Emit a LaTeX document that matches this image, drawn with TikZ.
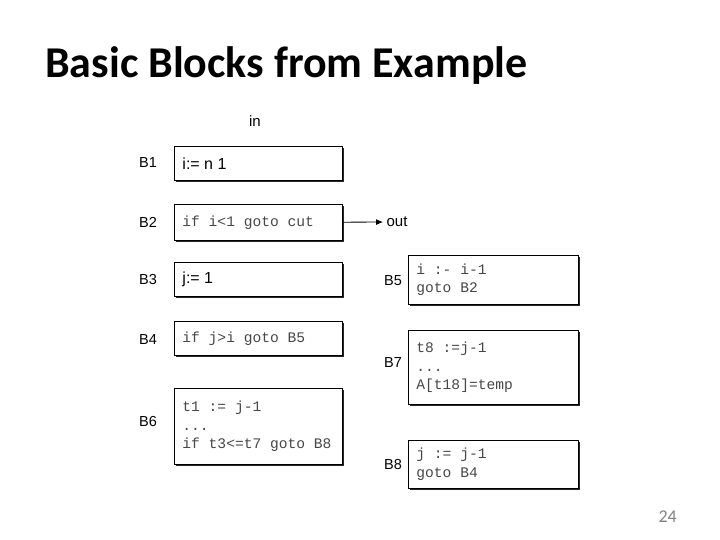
\documentclass[tikz,border=0pt]{standalone}
\usepackage{fontspec}
\setmainfont{Carlito}
\newfontfamily\codefont{Liberation Mono}
\newfontfamily\labelfont{Liberation Sans}
\usetikzlibrary{shadows,arrows.meta}

% fixed-width spaces for the code lines
\newcommand\codesetup{\codefont\fontsize{14.6}{18.5}\selectfont
  \fontdimen2\font=0.6em\fontdimen3\font=0pt\fontdimen4\font=0pt}

\tikzset{
  block/.style={draw, line width=0.9pt, fill=white, anchor=north west,
    text width=152pt, inner xsep=8pt, align=flush left,
    drop shadow={shadow xshift=1.4pt, shadow yshift=-1.4pt, opacity=1, fill=black!85}},
  code/.style={font=\codesetup, text=black!72},
  plain/.style={font=\labelfont\fontsize{16}{18}\selectfont},
  blabel/.style={font=\labelfont\fontsize{14.5}{16}\selectfont},
}

\begin{document}
\begin{tikzpicture}[x=1pt,y=-1pt]
        \useasboundingbox (0,0) rectangle (720,540);

        % Title
        \node[anchor=base west, inner sep=0, font=\bfseries\fontsize{44}{50}\selectfont] (title) at (45,78) {Basic Blocks from Example};

        % Left column
        \node[plain, font=\labelfont\fontsize{15}{18}\selectfont] (in) at (255,121) {in};
        \node[block, plain, minimum height=34pt] (b1) at (174,146) {i:= n 1};
        \node[block, code, minimum height=36pt] (b2) at (174,204) {if i<1 goto cut};
        \node[block, plain, minimum height=34pt] (b3) at (174,262) {j:= 1};
        \node[block, code, minimum height=34pt] (b4) at (174,321) {if j>i goto B5};
        \node[block, code, minimum height=76pt] (b6) at (174,388) {t1 := j-1\\...\\if t3<=t7 goto B8};

        % Labels
        \node[blabel] (l1) at (148,163) {B1};
        \node[blabel] (l2) at (148,222) {B2};
        \node[blabel] (l3) at (148,280) {B3};
        \node[blabel] (l4) at (148,340) {B4};
        \node[blabel] (l6) at (148,422) {B6};

        % Exit
        \node[plain, font=\labelfont\fontsize{15}{18}\selectfont] (out) at (397,222) {out};
        \draw[-{Latex[length=7pt,width=6pt]}, line width=0.8pt] (b2) -- (out);

        % Right column
        \node[block, code, text width=154pt, minimum height=49pt] (b5) at (408,255) {i :- i-1\\goto B2};
        \node[block, code, text width=154pt, minimum height=74pt] (b7) at (408,330) {t8 :=j-1\\...\\A[t18]=temp};
        \node[block, code, text width=154pt, minimum height=48pt] (b8) at (408,440) {j := j-1\\goto B4};
        \node[blabel] (l5) at (393,281) {B5};
        \node[blabel] (l7) at (393,363) {B7};
        \node[blabel] (l8) at (393,465) {B8};

        % Page number
        \node[anchor=base east, inner sep=0, text=black!50, font=\fontsize{18}{20}\selectfont] (page) at (677,522) {24};
\end{tikzpicture}
\end{document}
